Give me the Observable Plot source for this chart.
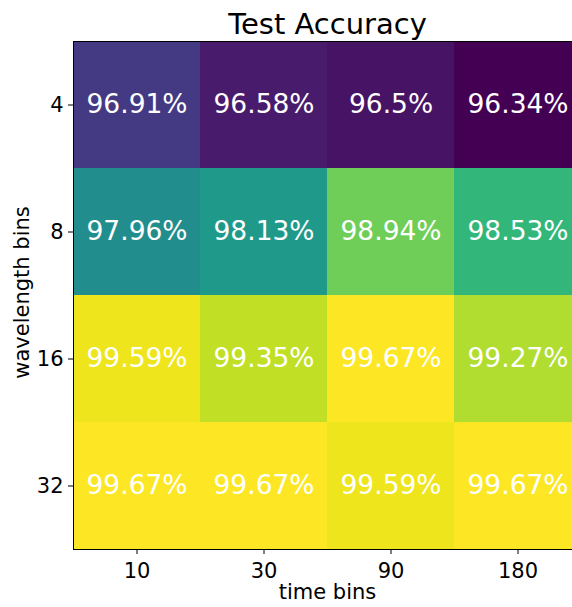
<!DOCTYPE html>
<html>
<head>
<meta charset="utf-8">
<script src="https://cdn.jsdelivr.net/npm/d3@7"></script>
<script src="https://cdn.jsdelivr.net/npm/@observablehq/plot@0.6"></script>
<style>
  html, body { margin: 0; padding: 0; background: white; overflow: hidden; width: 572px; height: 607px; }
  #chart svg { display: block; overflow: hidden; }
</style>
</head>
<body>
<div id="chart"></div>
<script>
const timeBins = ["10", "30", "90", "180"];
const wavelengthBins = ["4", "8", "16", "32"];
const acc4  = [96.91, 96.58, 96.5, 96.34];
const acc8  = [97.96, 98.13, 98.94, 98.53];
const acc16 = [99.59, 99.35, 99.67, 99.27];
const acc32 = [99.67, 99.67, 99.59, 99.67];
const title = "Test Accuracy";
const xLabel = "time bins";
const yLabel = "wavelength bins";

const rows = [acc4, acc8, acc16, acc32];
const cells = [];
wavelengthBins.forEach((w, i) => {
  timeBins.forEach((t, j) => {
    cells.push({ w, t, v: rows[i][j] });
  });
});
const vals = cells.map(d => d.v);

const chart = Plot.plot({
  width: 572,
  height: 607,
  marginLeft: 73,
  marginRight: -9,
  marginTop: 41,
  marginBottom: 58,
  style: { fontFamily: "DejaVu Sans", color: "black", background: "white", overflow: "hidden" },
  x: { type: "band", domain: timeBins, padding: 0 },
  y: { type: "band", domain: wavelengthBins, padding: 0 },
  color: { type: "linear", scheme: "viridis", domain: [d3.min(vals), d3.max(vals)] },
  marks: [
    Plot.cell(cells, { x: "t", y: "w", fill: "v", inset: 0 }),
    Plot.text(cells, { x: "t", y: "w", text: d => d.v + "%", fill: "white", fontSize: 26.5 }),
    Plot.frame({ stroke: "black", strokeWidth: 1 }),
    Plot.axisX({ anchor: "bottom", tickSize: 5, tickPadding: 9, fontSize: 21, label: null, stroke: "black" }),
    Plot.axisY({ anchor: "left", tickSize: 5, tickPadding: 5, fontSize: 21, label: null, stroke: "black" }),
    Plot.text([title], { frameAnchor: "top", lineAnchor: "middle", textAnchor: "middle", dy: -17, fontSize: 29, fill: "black" }),
    Plot.text([xLabel], { frameAnchor: "bottom", lineAnchor: "middle", textAnchor: "middle", dy: 43, fontSize: 21, fill: "black" }),
    Plot.text([yLabel], { frameAnchor: "left", lineAnchor: "middle", textAnchor: "middle", dx: -51, dy: -3, rotate: -90, fontSize: 21, fill: "black" })
  ]
});
document.getElementById("chart").appendChild(chart);
</script>
</body>
</html>
